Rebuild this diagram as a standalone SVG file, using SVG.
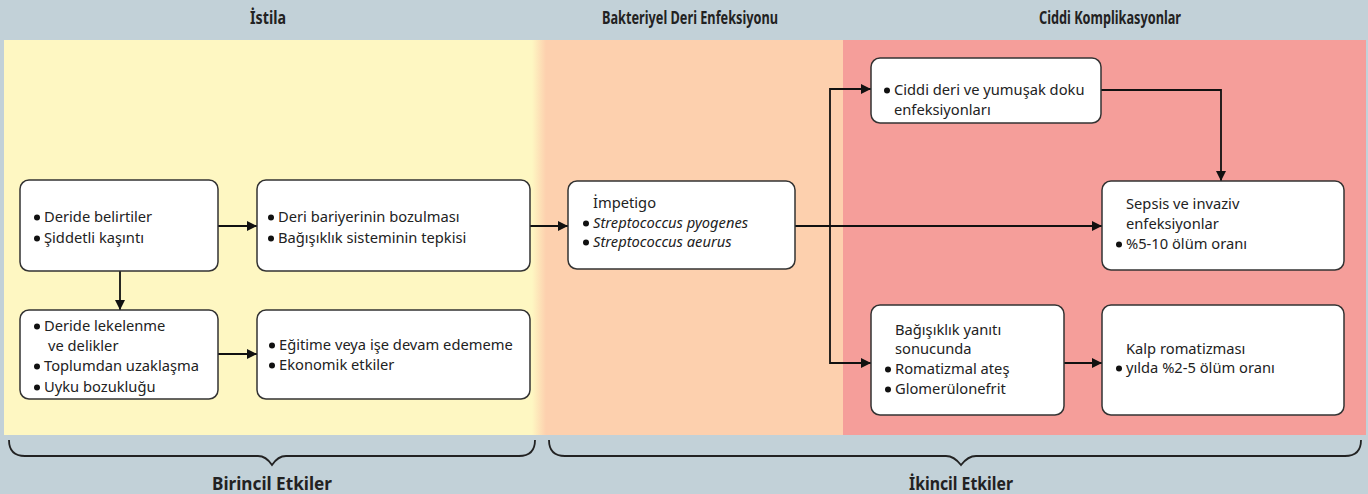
<svg xmlns="http://www.w3.org/2000/svg" width="1368" height="494" viewBox="0 0 1368 494">
<defs>
<marker id="ah" viewBox="0 0 10 10" refX="10" refY="5" markerWidth="11" markerHeight="10" markerUnits="userSpaceOnUse" orient="auto">
<path d="M0,0 L10,5 L0,10 z" fill="#111"/>
</marker>
<linearGradient id="yp" x1="0" x2="1" y1="0" y2="0">
<stop offset="0" stop-color="#fef7c2"/><stop offset="1" stop-color="#fdd0ae"/>
</linearGradient>
</defs>
<style>
.hd{font-family:"Noto Sans","Liberation Sans",sans-serif;font-weight:bold;font-size:17px;fill:#222;text-anchor:middle}
.t{font-family:"Noto Sans","Liberation Sans",sans-serif;font-size:14.7px;fill:#222}
.it{font-style:italic}
.box{fill:#fff;stroke:#333;stroke-width:1.5}
.ln{fill:none;stroke:#111;stroke-width:1.8}
.br{fill:none;stroke:#222;stroke-width:1.8}
.dot{fill:#111}
</style>
<rect x="0" y="0" width="1368" height="494" fill="#c2d1d8"/>
<rect x="4" y="40" width="536" height="395" fill="#fef7c2"/>
<rect x="532" y="40" width="14" height="395" fill="url(#yp)"/>
<rect x="546" y="40" width="297" height="395" fill="#fdd0ae"/>
<rect x="843" y="40" width="523" height="395" fill="#f59e9a"/>
<g id="headers">
<text class="hd" x="268" y="24" textLength="36" lengthAdjust="spacingAndGlyphs">İstila</text>
<text class="hd" x="690" y="24" textLength="176" lengthAdjust="spacingAndGlyphs">Bakteriyel Deri Enfeksiyonu</text>
<text class="hd" x="1110" y="24" textLength="142" lengthAdjust="spacingAndGlyphs">Ciddi Komplikasyonlar</text>
</g>
<g id="connectors">
<line class="ln" x1="218" y1="226" x2="257" y2="226" marker-end="url(#ah)"/>
<line class="ln" x1="120" y1="271" x2="120" y2="310" marker-end="url(#ah)"/>
<line class="ln" x1="218" y1="354" x2="257" y2="354" marker-end="url(#ah)"/>
<line class="ln" x1="530" y1="226" x2="568" y2="226" marker-end="url(#ah)"/>
<line class="ln" x1="795" y1="226" x2="1102" y2="226" marker-end="url(#ah)"/>
<polyline class="ln" points="871,89 830,89 830,363 871,363"/>
<line class="ln" x1="830" y1="89" x2="871" y2="89" marker-end="url(#ah)"/>
<line class="ln" x1="830" y1="363" x2="871" y2="363" marker-end="url(#ah)"/>
<polyline class="ln" points="1101,90 1221,90 1221,181" marker-end="url(#ah)"/>
<line class="ln" x1="1064" y1="363" x2="1102" y2="363" marker-end="url(#ah)"/>
</g>
<g id="n1">
<rect class="box" x="20" y="180" width="198" height="91" rx="9"/>
<circle class="dot" cx="37" cy="217.5" r="3"/><text class="t" x="44" y="222">Deride belirtiler</text>
<circle class="dot" cx="37" cy="238.5" r="3"/><text class="t" x="44" y="243">Şiddetli kaşıntı</text>
</g>
<g id="n2">
<rect class="box" x="257" y="180" width="273" height="91" rx="9"/>
<circle class="dot" cx="271" cy="217.5" r="3"/><text class="t" x="278" y="222">Deri bariyerinin bozulması</text>
<circle class="dot" cx="271" cy="238.5" r="3"/><text class="t" x="278" y="243">Bağışıklık sisteminin tepkisi</text>
</g>
<g id="n3">
<rect class="box" x="20" y="310" width="198" height="89" rx="9"/>
<circle class="dot" cx="37" cy="326.5" r="3"/><text class="t" x="44" y="331">Deride lekelenme</text>
<text class="t" x="48" y="351">ve delikler</text>
<circle class="dot" cx="37" cy="366.5" r="3"/><text class="t" x="44" y="371">Toplumdan uzaklaşma</text>
<circle class="dot" cx="37" cy="387.5" r="3"/><text class="t" x="44" y="392">Uyku bozukluğu</text>
</g>
<g id="n4">
<rect class="box" x="257" y="310" width="273" height="89" rx="9"/>
<circle class="dot" cx="272" cy="345.5" r="3"/><text class="t" x="279" y="350">Eğitime veya işe devam edememe</text>
<circle class="dot" cx="272" cy="365.5" r="3"/><text class="t" x="279" y="370">Ekonomik etkiler</text>
</g>
<g id="n5">
<rect class="box" x="568" y="181" width="227" height="88" rx="9"/>
<text class="t" x="593" y="208">İmpetigo</text>
<circle class="dot" cx="586" cy="223.5" r="3"/><text class="t it" x="593" y="228">Streptococcus pyogenes</text>
<circle class="dot" cx="586" cy="242.5" r="3"/><text class="t it" x="593" y="247">Streptococcus aeurus</text>
</g>
<g id="n6">
<rect class="box" x="871" y="58" width="230" height="65" rx="9"/>
<circle class="dot" cx="887" cy="90.5" r="3"/><text class="t" x="894" y="95">Ciddi deri ve yumuşak doku</text>
<text class="t" x="894" y="115">enfeksiyonları</text>
</g>
<g id="n7">
<rect class="box" x="1102" y="181" width="242" height="89" rx="9"/>
<text class="t" x="1126" y="209">Sepsis ve invaziv</text>
<text class="t" x="1126" y="229">enfeksiyonlar</text>
<circle class="dot" cx="1119" cy="244.5" r="3"/><text class="t" x="1126" y="249">%5-10 ölüm oranı</text>
</g>
<g id="n8">
<rect class="box" x="871" y="305" width="193" height="110" rx="9"/>
<text class="t" x="895" y="335">Bağışıklık yanıtı</text>
<text class="t" x="895" y="354">sonucunda</text>
<circle class="dot" cx="888" cy="369.5" r="3"/><text class="t" x="895" y="374">Romatizmal ateş</text>
<circle class="dot" cx="888" cy="389.5" r="3"/><text class="t" x="895" y="394">Glomerülonefrit</text>
</g>
<g id="n9">
<rect class="box" x="1102" y="305" width="242" height="110" rx="9"/>
<text class="t" x="1126" y="354">Kalp romatizması</text>
<circle class="dot" cx="1119" cy="368.5" r="3"/><text class="t" x="1126" y="373">yılda %2-5 ölüm oranı</text>
</g>
<g id="braces">
<path class="br" d="M9,440 Q9,456 25,456 L258,456 Q266,456 272,465 Q278,456 286,456 L519,456 Q535,456 535,440"/>
<path class="br" d="M549,440 Q549,456 565,456 L946,456 Q954,456 961,465 Q968,456 976,456 L1345,456 Q1361,456 1361,440"/>
<text class="hd" x="272" y="490" textLength="120" lengthAdjust="spacingAndGlyphs">Birincil Etkiler</text>
<text class="hd" x="961" y="490" textLength="104" lengthAdjust="spacingAndGlyphs">İkincil Etkiler</text>
</g>
</svg>
